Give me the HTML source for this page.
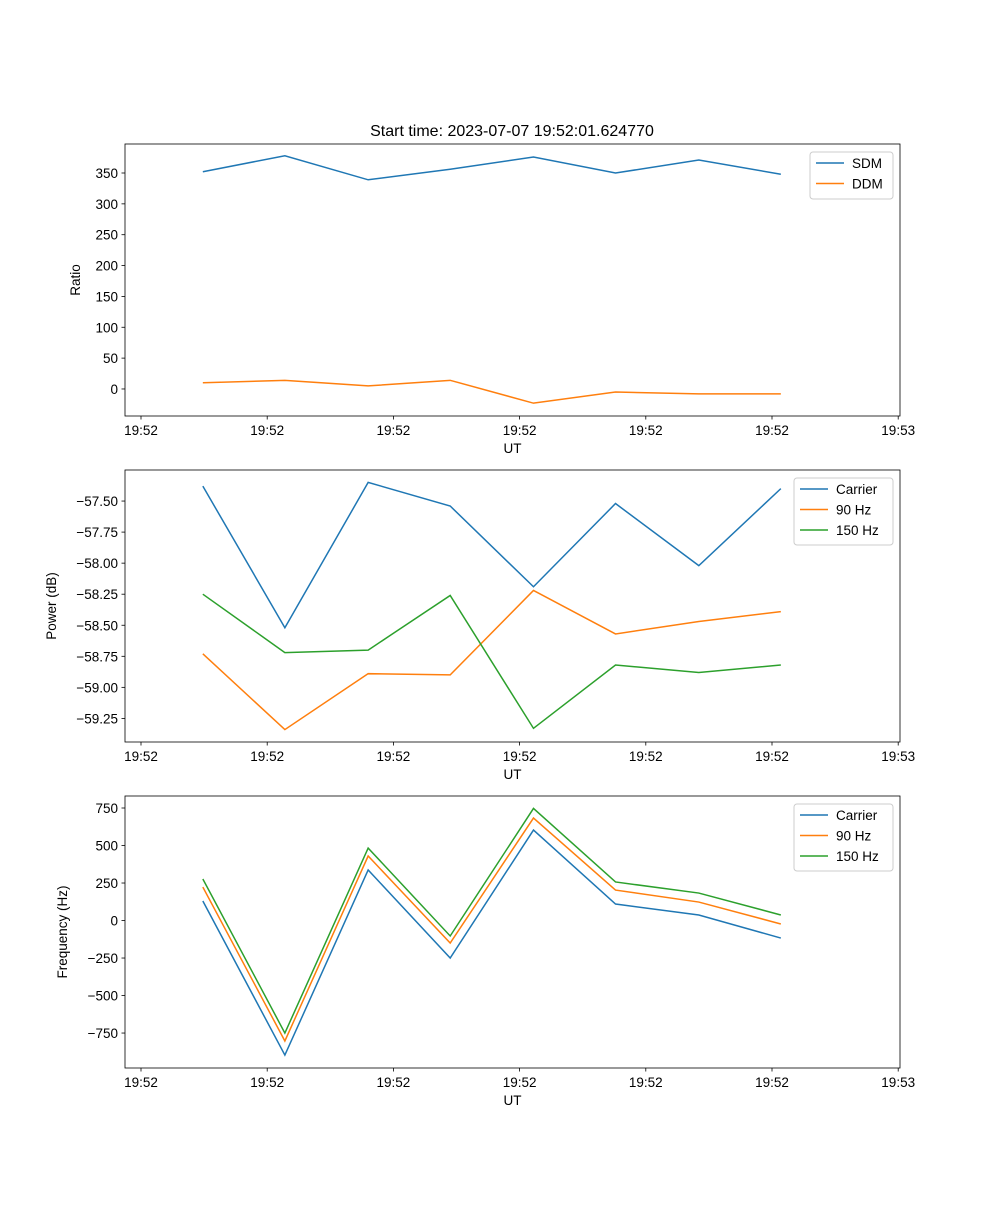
<!DOCTYPE html>
<html><head><meta charset="utf-8"><style>
body{margin:0;background:#fff}
svg text{font-family:"Liberation Sans","DejaVu Sans",sans-serif;fill:#000}
</style></head><body>
<svg id="fig" width="1000" height="1200" xmlns="http://www.w3.org/2000/svg"></svg>
<script>
const times=[0.49,1.14,1.80,2.45,3.11,3.76,4.42,5.07];
const xTickVals=[0,1,2,3,4,5,6];
const xTickLabels=["19:52","19:52","19:52","19:52","19:52","19:52","19:53"];
const sdm=[352,378,339,356,376,350,371,348];
const ddm=[10,14,5,14,-23,-5,-8,-8];
const pCarrier=[-57.38,-58.52,-57.35,-57.54,-58.19,-57.52,-58.02,-57.40];
const p90=[-58.73,-59.34,-58.89,-58.90,-58.22,-58.57,-58.47,-58.39];
const p150=[-58.25,-58.72,-58.70,-58.26,-59.33,-58.82,-58.88,-58.82];
const fCarrier=[130,-897,337,-250,603,110,37,-117];
const f90=[223,-803,430,-150,683,203,123,-23];
const f150=[277,-750,483,-103,747,257,183,37];
const ticks1=[0,50,100,150,200,250,300,350];
const ticks2=[-59.25,-59.0,-58.75,-58.5,-58.25,-58.0,-57.75,-57.5];
const ticks3=[-750,-500,-250,0,250,500,750];
const C=["#1f77b4","#ff7f0e","#2ca02c"];
const NS="http://www.w3.org/2000/svg";
const svg=document.getElementById('fig');
function el(t,a,p){const e=document.createElementNS(NS,t);for(const k in a)e.setAttribute(k,a[k]);(p||svg).appendChild(e);return e;}
const X0=125,X1=900;
const xs=v=>141+v*126.2;
function panel(name,top,bot,ymin,ymax,yt,fmt,ylabel,series,labels,legW,legX){
 const g=el('g',{});
 
 
 const ys=v=>bot-(v-ymin)/(ymax-ymin)*(bot-top);
 yt.forEach(v=>{const y=ys(v);
  const t=el('line',{x1:X0-3.5,x2:X0,y1:y,y2:y,stroke:'#000','stroke-width':0.8},g);
  
  const l=el('text',{x:X0-7,y:y+5,'text-anchor':'end','font-size':13.5},g);l.textContent=fmt(v);
  });
 xTickVals.forEach((v,i)=>{const x=xs(v);
  const t=el('line',{x1:x,x2:x,y1:bot,y2:bot+3.5,stroke:'#000','stroke-width':0.8},g);
  
  const l=el('text',{x:x,y:bot+19,'text-anchor':'middle','font-size':13.5},g);l.textContent=xTickLabels[i];
  });
 series.forEach((s,i)=>{
  const p=el('polyline',{points:s.map((v,j)=>xs(times[j])+','+ys(v)).join(' '),fill:'none',stroke:C[i],'stroke-width':1.5},g);
  });
 const f=el('rect',{x:X0,y:top,width:X1-X0,height:bot-top,fill:'none',stroke:'#000','stroke-width':0.8},g);
 
 const xl=el('text',{x:(X0+X1)/2,y:bot+37,'text-anchor':'middle','font-size':13.5},g);xl.textContent='UT';
 
 const yx=ylabel.x;
 const yl=el('text',{x:yx,y:(top+bot)/2,'text-anchor':'middle','font-size':13.5,transform:`rotate(-90 ${yx} ${(top+bot)/2})`},g);yl.textContent=ylabel.t;
 
 const lg=el('g',{},g);
 el('rect',{x:legX,y:top+8,width:legW,height:labels.length*20+7,rx:3,fill:'#fff',stroke:'#ccc','stroke-width':1},lg);
 labels.forEach((lb,i)=>{const y=top+19+i*20.5;
  el('line',{x1:legX+6,x2:legX+34,y1:y,y2:y,stroke:C[i],'stroke-width':1.5},lg);
  const t=el('text',{x:legX+42,y:y+5,'font-size':13.5},lg);t.textContent=lb;
  });
}
const tt=el('text',{x:512,y:136,'text-anchor':'middle','font-size':16});tt.textContent='Start time: 2023-07-07 19:52:01.624770';

panel('ratio',144,416,-43.8,397,ticks1,v=>String(v),{x:80,t:'Ratio'},[sdm,ddm],['SDM','DDM'],83,810);
panel('power',470,742,-59.44,-57.25,ticks2,v=>v.toFixed(2).replace('-','\u2212'),{x:56,t:'Power (dB)'},[pCarrier,p90,p150],['Carrier','90 Hz','150 Hz'],99,794);
panel('frequency',796,1068,-983,830,ticks3,v=>String(v).replace('-','\u2212'),{x:67,t:'Frequency (Hz)'},[fCarrier,f90,f150],['Carrier','90 Hz','150 Hz'],99,794);
</script>
</body></html>
